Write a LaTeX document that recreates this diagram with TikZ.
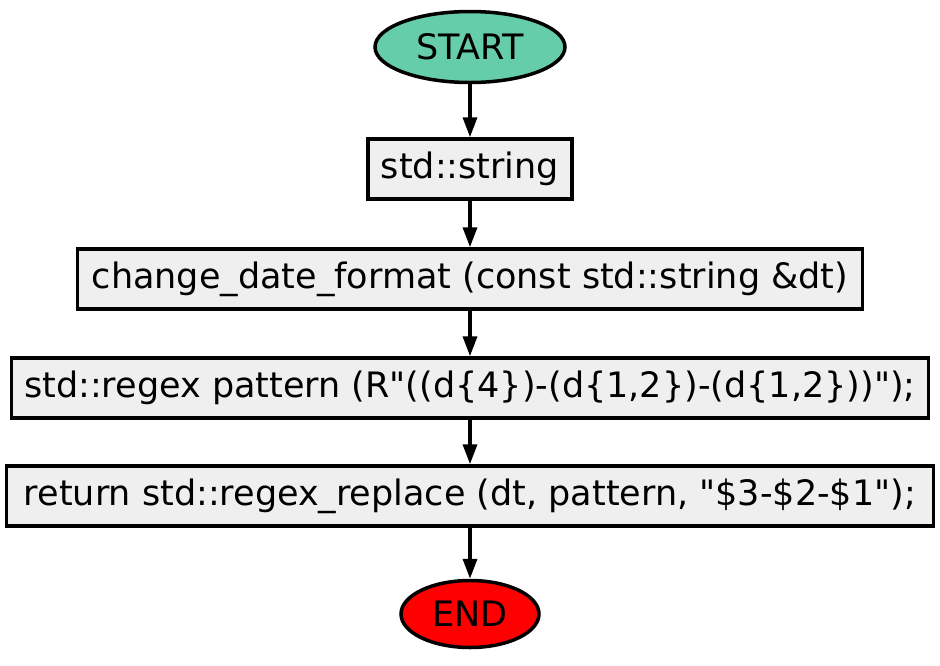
\documentclass[tikz,border=0pt]{standalone}
\usepackage{fontspec}
\setmainfont{DejaVu Sans}
\usetikzlibrary{shapes.geometric,arrows.meta}
\definecolor{startgreen}{RGB}{102,205,170}
\definecolor{boxgray}{RGB}{239,239,239}
\begin{document}
\begin{tikzpicture}[x=1pt,y=-1pt]
    % --- 样式设置 ---
    \tikzstyle{terminal}=[ellipse, draw=black, line width=3.5pt, inner sep=0pt, font=\fontsize{35}{40}\selectfont]
    \tikzstyle{procbox}=[rectangle, draw=black, line width=3.5pt, fill=boxgray, inner sep=0pt, minimum height=60pt, font=\fontsize{35}{40}\selectfont]
    \tikzstyle{flow}=[-{Triangle[length=20pt,width=14pt]}, line width=3.5pt, black]

    \useasboundingbox (0,0) rectangle (940,665);

    % 1. 起止节点
    \node[terminal, fill=startgreen, minimum width=190pt, minimum height=71pt] (start) at (470,47) {START};
    \node[terminal, fill=red, minimum width=138pt, minimum height=67pt] (end) at (470,614) {END};

    % 2. 处理框
    \node[procbox, minimum width=204pt] (ret) at (470,169) {std::string};
    \node[procbox, minimum width=785pt] (func) at (470,279) {change\_date\_format (const std::string \&dt)};
    \node[procbox, minimum width=917pt] (pat) at (470,388) {std::regex pattern (R\textquotedbl((d\{4\})-(d\{1,2\})-(d\{1,2\}))\textquotedbl);};
    \node[procbox, minimum width=927pt] (repl) at (470,496) {return std::regex\_replace (dt, pattern, \textquotedbl\$3-\$2-\$1\textquotedbl);};

    % 3. 连接箭头
    \draw[flow] (start) -- (ret);
    \draw[flow] (ret) -- (func);
    \draw[flow] (func) -- (pat);
    \draw[flow] (pat) -- (repl);
    \draw[flow] (repl) -- (end);

\end{tikzpicture}
\end{document}
